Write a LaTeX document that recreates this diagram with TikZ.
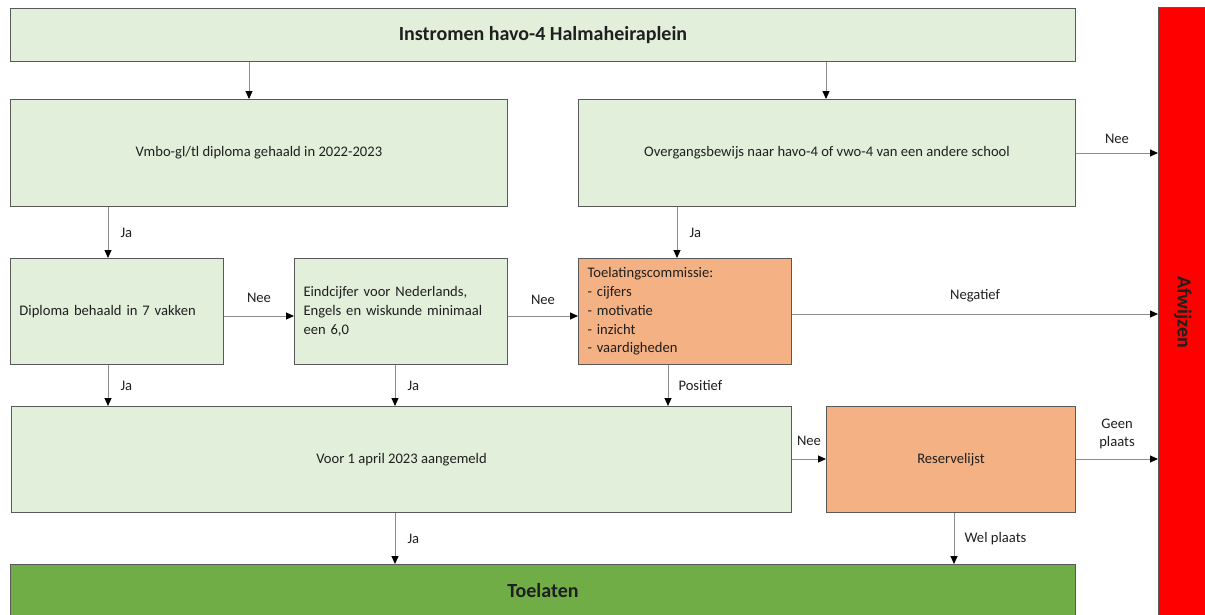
\documentclass[tikz,border=0pt]{standalone}
\usepackage{fontspec}
\setmainfont{Carlito}
\usetikzlibrary{arrows.meta,calc}
\definecolor{lgreen}{HTML}{E2EFDA}
\definecolor{orng}{HTML}{F4B183}
\definecolor{dgreen}{HTML}{70AD47}
\definecolor{redbar}{HTML}{FF0000}
\definecolor{bord}{HTML}{595959}
\definecolor{lin}{HTML}{8C8C8C}
\definecolor{txt}{HTML}{1F1F1F}
\tikzset{
  box/.style={draw=bord, line width=1pt, rectangle, anchor=north west, inner sep=0pt,
    font=\fontsize{14.6}{18.8}\selectfont, text=txt},
  gbox/.style={box, fill=lgreen},
  obox/.style={box, fill=orng},
  arr/.style={draw=lin, line width=1pt, -{Triangle[black,length=8pt,width=7pt]}},
  lbl/.style={font=\fontsize{14.6}{17.5}\selectfont, text=txt, inner sep=0pt},
  bigt/.style={font=\fontsize{20}{24}\selectfont\bfseries},
}
\begin{document}
\begin{tikzpicture}[x=1pt,y=-1pt]
\useasboundingbox (0,0) rectangle (1205,614);
% boxes
\node[gbox, minimum width=1065pt, minimum height=53pt] (top) at (10,8)
  {\fontsize{20}{24}\selectfont\bfseries Instromen havo-4 Halmaheiraplein};
\node[gbox, minimum width=497pt, minimum height=107pt] (vmbo) at (10,99)
  {Vmbo-gl/tl diploma gehaald in 2022-2023};
\node[gbox, minimum width=497pt, minimum height=107pt] (overg) at (578,99)
  {Overgangsbewijs naar havo-4 of vwo-4 van een andere school};
\node[gbox, minimum width=213pt, minimum height=106pt, text width=195pt, align=left] (dipl) at (10,258)
  {Diploma behaald in 7 vakken};
\node[gbox, minimum width=213pt, minimum height=106pt, text width=195pt, align=left] (eind) at (294,258)
  {Eindcijfer voor Nederlands,\\Engels en wiskunde minimaal\\een 6,0};
\node[obox, minimum width=213pt, minimum height=106pt, text width=195pt, align=left] (toel) at (578,258)
  {Toelatingscommissie:\\- cijfers\\- motivatie\\- inzicht\\- vaardigheden};
\node[gbox, minimum width=780pt, minimum height=106pt] (voor) at (11,406)
  {Voor 1 april 2023 aangemeld};
\node[obox, minimum width=249pt, minimum height=106pt] (res) at (826,406)
  {Reservelijst};
\node[box, fill=dgreen, minimum width=1065pt, minimum height=53pt] (toelaten) at (10,564)
  {\fontsize{20}{24}\selectfont\bfseries\raisebox{2pt}{Toelaten}};
\node[box, fill=redbar, minimum width=55pt, minimum height=615pt] (afw) at (1158,7) {};
\node[rotate=-90, bigt, text=txt] (afwt) at (1183,312) {Afwijzen};
% helper positions
\coordinate (x1) at (249,0);
\coordinate (x2) at (826,0);
\coordinate (x3) at (108,0);
\coordinate (x4) at (677,0);
\coordinate (x5) at (395,0);
\coordinate (x6) at (668,0);
\coordinate (x7) at (954,0);
\coordinate (y1) at (0,153);
\coordinate (y2) at (0,316);
\coordinate (y3) at (0,314);
\coordinate (y4) at (0,459);
% connectors
\draw[arr] (x1 |- top.south) -- (x1 |- vmbo.north);
\draw[arr] (x2 |- top.south) -- (x2 |- overg.north);
\draw[arr] (overg.east |- y1) -- (afw.west |- y1) node[lbl, midway, above=9pt] {Nee};
\draw[arr] (x3 |- vmbo.south) -- (x3 |- dipl.north) node[lbl, midway, right=12pt] {Ja};
\draw[arr] (x4 |- overg.south) -- (x4 |- toel.north) node[lbl, midway, right=12pt] {Ja};
\draw[arr] (dipl.east |- y2) -- (eind.west |- y2) node[lbl, midway, above=13pt] {Nee};
\draw[arr] (eind.east |- y2) -- (toel.west |- y2) node[lbl, midway, above=11pt] {Nee};
\draw[arr] (toel.east |- y3) -- (afw.west |- y3) node[lbl, midway, above=11pt] {Negatief};
\draw[arr] (x3 |- dipl.south) -- (x3 |- voor.north) node[lbl, midway, right=12pt] {Ja};
\draw[arr] (x5 |- eind.south) -- (x5 |- voor.north) node[lbl, midway, right=12pt] {Ja};
\draw[arr] (x6 |- toel.south) -- (x6 |- voor.north) node[lbl, midway, right=10pt] {Positief};
\draw[arr] (voor.east |- y4) -- (res.west |- y4) node[lbl, midway, above=13pt] {Nee};
\draw[arr] (res.east |- y4) -- (afw.west |- y4) node[lbl, midway, above=10pt, align=center] {Geen\\plaats};
\draw[arr] (x5 |- voor.south) -- (x5 |- toelaten.north) node[lbl, midway, right=12pt] {Ja};
\draw[arr] (x7 |- res.south) -- (x7 |- toelaten.north) node[lbl, midway, right=10pt] {Wel plaats};
\end{tikzpicture}
\end{document}
